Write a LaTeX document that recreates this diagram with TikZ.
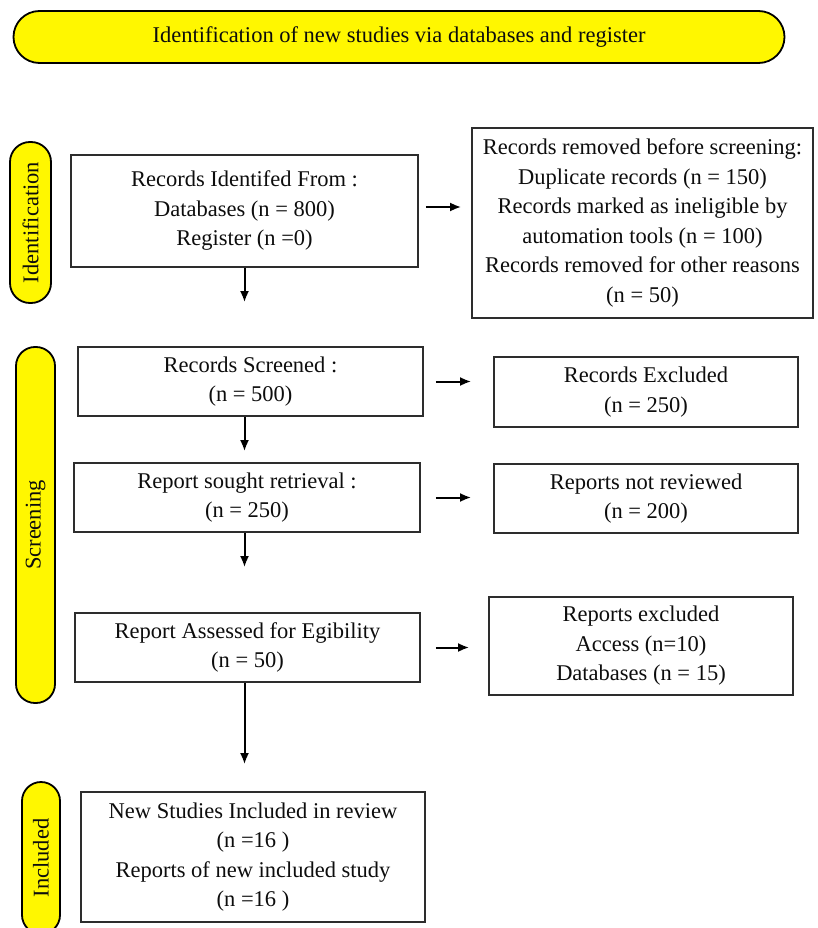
\documentclass[tikz,border=0pt]{standalone}
\usepackage{fontspec}
\setmainfont{Liberation Serif}
\usetikzlibrary{arrows.meta}
\definecolor{pillyellow}{RGB}{255,247,0}
\definecolor{boxgray}{RGB}{45,45,45}

\begin{document}
\begin{tikzpicture}[x=1pt,y=-1pt,
    every node/.style={font=\fontsize{22.5}{29.5}\selectfont, align=center, text=black!95},
    box/.style={draw=boxgray, line width=1.8pt, inner sep=0pt},
    pill/.style={draw=black, fill=pillyellow, line width=1.8pt, inner sep=0pt},
    arr/.style={-{Latex[length=11pt,width=9pt]}, line width=2pt}]

    \fill[white] (0,0) rectangle (817,928);
    \useasboundingbox (0,0) rectangle (817,928);

    % Title banner
    \node[pill, rounded corners=26pt, minimum width=771pt, minimum height=52pt] (title) at (399,37)
        {Identification of new studies via databases and register};

    % Side labels
    \node[pill, rounded corners=20pt, rotate=90, minimum width=161pt, minimum height=41pt] (idLbl) at (30.5,222.5) {Identification};
    \node[pill, rounded corners=19pt, rotate=90, minimum width=356pt, minimum height=39pt] (scrLbl) at (35.5,525) {Screening};
    \node[pill, rounded corners=19pt, rotate=90, minimum width=152pt, minimum height=38pt] (incLbl) at (41,858) {Included};

    % Identification (recId to recRem)
    \node[box, minimum width=347pt, minimum height=112pt] (recId) at (244.5,211)
        {Records Identifed From :\\ Databases (n = 800)\\ Register (n =0)};
    \node[box, minimum width=341pt, minimum height=190pt] (recRem) at (642.5,223)
        {Records removed before screening:\\ Duplicate records (n = 150)\\ Records marked as ineligible by\\
         automation tools (n = 100)\\ Records removed for other reasons\\ (n = 50)};

    % Screening (recScr, repSou, repAss and their exclusions)
    \node[box, minimum width=345pt, minimum height=69pt] (recScr) at (250.5,381.5)
        {Records Screened :\\ (n = 500)};
    \node[box, minimum width=304pt, minimum height=70pt] (recExc) at (646,392)
        {Records Excluded\\ (n = 250)};
    \node[box, minimum width=346pt, minimum height=69pt] (repSou) at (247,497.5)
        {Report sought retrieval :\\ (n = 250)};
    \node[box, minimum width=304pt, minimum height=69pt] (repNot) at (646,498.5)
        {Reports not reviewed\\ (n = 200)};
    \node[box, minimum width=345pt, minimum height=69pt] (repAss) at (247.5,647.5)
        {Report Assessed for Egibility\\ (n = 50)};
    \node[box, minimum width=304pt, minimum height=98pt] (repExc) at (641,646)
        {Reports excluded\\ Access (n=10)\\ Databases (n = 15)};

    % Included
    \node[box, minimum width=344pt, minimum height=130pt] (newInc) at (253,857)
        {New Studies Included in review\\ (n =16 )\\ Reports of new included study\\ (n =16 )};

    % Downward arrows
    \draw[arr, shorten >=44pt] (recId.south) -- (recId.south |- recScr.north);
    \draw[arr, shorten >=11pt] (recScr.south -| recId.south) -- (repSou.north -| recId.south);
    \draw[arr, shorten >=45pt] (repSou.south -| recId.south) -- (repAss.north -| recId.south);
    \draw[arr, shorten >=27pt] (repAss.south -| recId.south) -- (newInc.north -| recId.south);

    % Sideways arrows
    \draw[arr, shorten <=7pt, shorten >=10pt] ([yshift=4pt]recId.east) -- ([yshift=4pt]recId.east -| recRem.west);
    \draw[arr, shorten <=12pt, shorten >=22pt] (recScr.east) -- (recScr.east -| recExc.west);
    \draw[arr, shorten <=15pt, shorten >=22pt] (repSou.east) -- (repSou.east -| repNot.west);
    \draw[arr, shorten <=15pt, shorten >=19pt] (repAss.east) -- (repAss.east -| repExc.west);

\end{tikzpicture}
\end{document}
